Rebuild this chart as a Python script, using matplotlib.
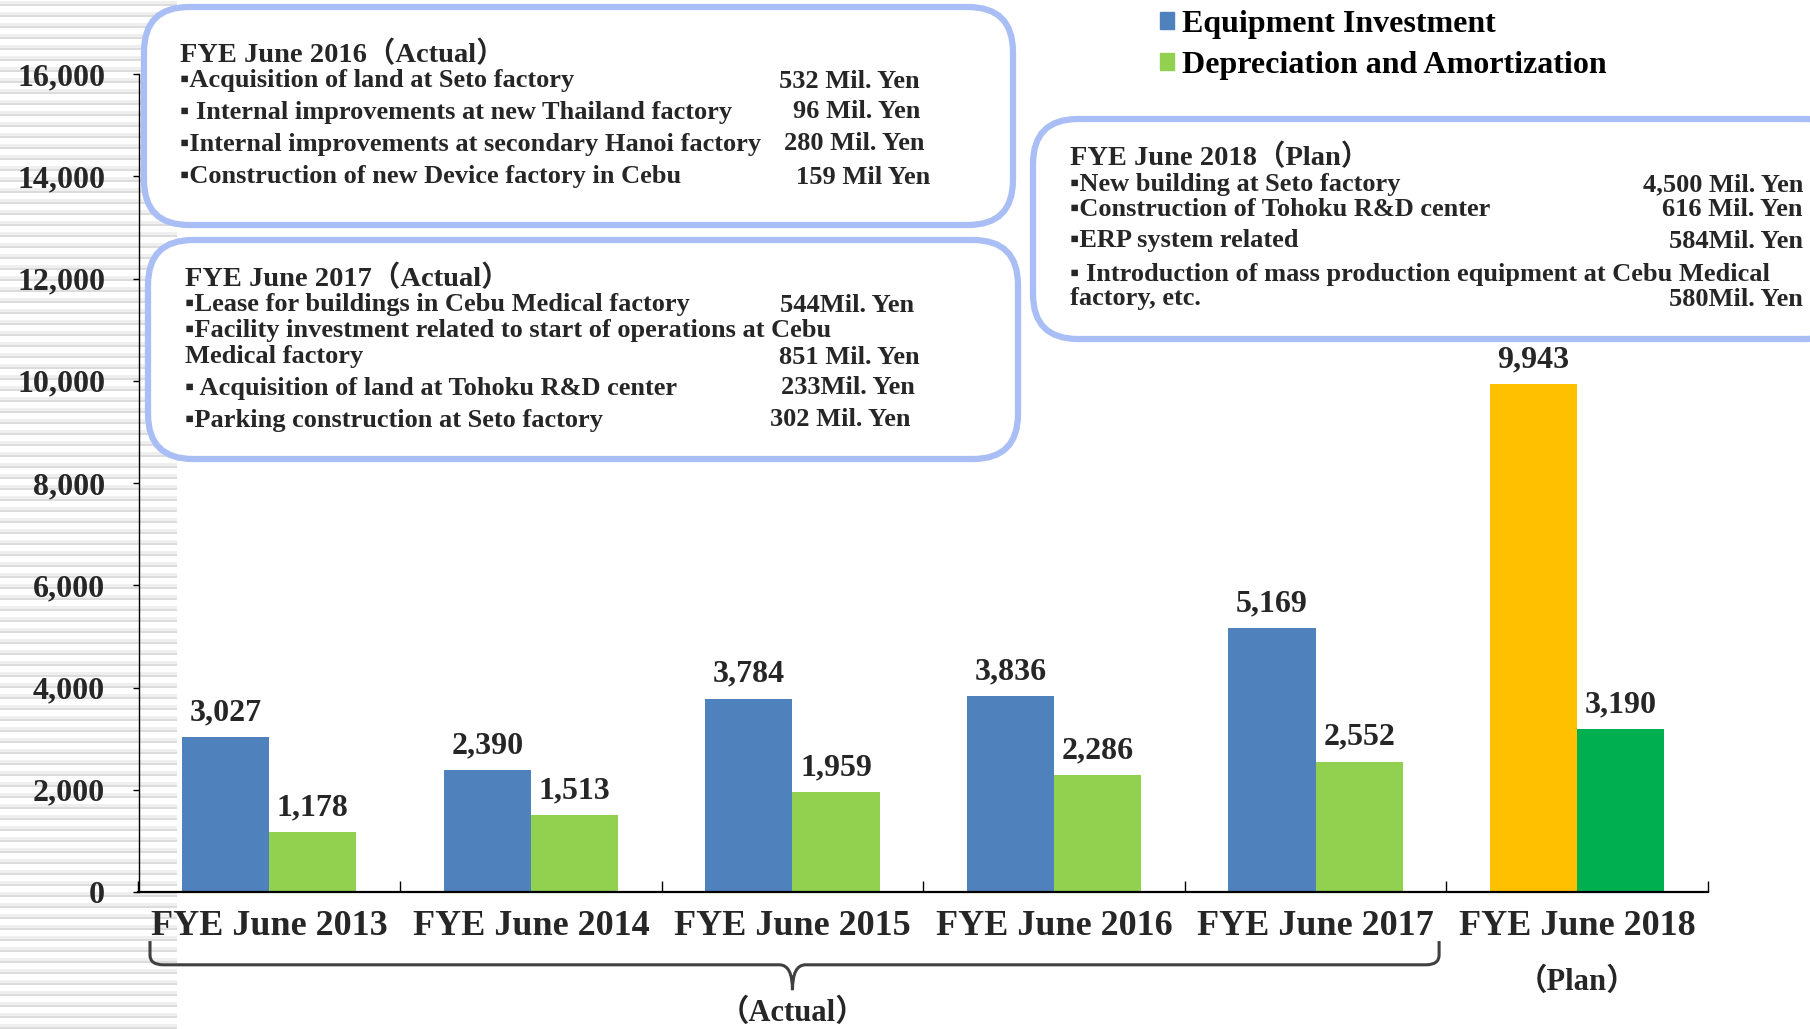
import numpy as np
import matplotlib
matplotlib.use("Agg")
import matplotlib.pyplot as plt
from matplotlib.patches import FancyBboxPatch, PathPatch, Rectangle
from matplotlib.path import Path
from matplotlib.transforms import IdentityTransform

# data (million yen)
years = ["FYE June 2013", "FYE June 2014", "FYE June 2015",
         "FYE June 2016", "FYE June 2017", "FYE June 2018"]
investment = [3027, 2390, 3784, 3836, 5169, 9943]
depreciation = [1178, 1513, 1959, 2286, 2552, 3190]
inv_colors = ["#4F81BD"] * 5 + ["#FFC000"]
dep_colors = ["#92D050"] * 5 + ["#00B050"]
yticks = np.arange(0, 16001, 2000)

box_2016_title = "FYE June 2016（Actual）"
box_2016_items = ["▪Acquisition of land at Seto factory",
                  "▪ Internal improvements at new Thailand factory",
                  "▪Internal improvements at secondary Hanoi factory",
                  "▪Construction of new Device factory in Cebu"]
box_2016_values = ["532 Mil. Yen", "96 Mil. Yen", "280 Mil. Yen", "159 Mil Yen"]

box_2017_title = "FYE June 2017（Actual）"
box_2017_items = ["▪Lease for buildings in Cebu Medical factory",
                  "▪Facility investment related to start of operations at Cebu",
                  "Medical factory",
                  "▪ Acquisition of land at Tohoku R&D center",
                  "▪Parking construction at Seto factory"]
box_2017_values = ["544Mil. Yen", "", "851 Mil. Yen", "233Mil. Yen", "302 Mil. Yen"]

box_2018_title = "FYE June 2018（Plan）"
box_2018_items = ["▪New building at Seto factory",
                  "▪Construction of Tohoku R&D center",
                  "▪ERP system related",
                  "▪ Introduction of mass production equipment at Cebu Medical",
                  "factory, etc."]
box_2018_values = ["4,500 Mil. Yen", "616 Mil. Yen", "584Mil. Yen", "", "580Mil. Yen"]

W, H = 1810, 1029
TXT = "#262626"

plt.rcParams['font.family'] = ['Liberation Serif', 'DejaVu Sans', 'Noto Sans CJK JP']
plt.rcParams['font.weight'] = 'bold'

fig = plt.figure(figsize=(W / 100, H / 100), dpi=100)
fig.patch.set_facecolor("white")
ax = fig.add_axes([138.5 / W, 1 - 892 / H, (1708 - 138.5) / W, (892 - 74) / H])
ax.patch.set_facecolor("none")

# striped band on the left edge
for y0 in np.arange(0, H, 11):
    fig.add_artist(Rectangle((0, y0), 177, 2.5, transform=IdentityTransform(),
                             facecolor="#dcdcdc", edgecolor="none", zorder=-2))
    fig.add_artist(Rectangle((0, y0 + 2.5), 177, 3, transform=IdentityTransform(),
                             facecolor="#efefef", edgecolor="none", zorder=-2))

x = np.arange(len(years))
w = 1 / 3
b1 = ax.bar(x - w / 2, investment, w, color=inv_colors, label="Equipment Investment", zorder=2)
b2 = ax.bar(x + w / 2, depreciation, w, color=dep_colors, label="Depreciation and Amortization", zorder=2)
ax.bar_label(b1, labels=[f"{v:,}" for v in investment], padding=7, fontsize=23, color=TXT)
ax.bar_label(b2, labels=[f"{v:,}" for v in depreciation], padding=7, fontsize=23, color=TXT)

ax.set_xlim(-0.5, len(years) - 0.5)
ax.set_ylim(0, 16000)
ax.set_yticks(yticks, [f"{v:,}" for v in yticks])
ax.tick_params(axis='y', direction='out', length=4, width=1, pad=20, labelsize=23, labelcolor=TXT)
ax.set_xticks(np.arange(-0.5, len(years)), [""] * (len(years) + 1))
ax.tick_params(axis='x', which='major', direction='in', length=8, width=1)
ax.set_xticks(x, years, minor=True)
ax.tick_params(axis='x', which='minor', length=0, pad=13, labelsize=26, labelcolor=TXT)
for s in ["top", "right"]:
    ax.spines[s].set_visible(False)
ax.spines["left"].set_linewidth(1)
ax.spines["bottom"].set_linewidth(1.6)

leg = ax.legend(loc="upper left", bbox_to_anchor=(1160, H - 10), bbox_transform=IdentityTransform(),
                frameon=False, fontsize=23, handlelength=0.45, handleheight=0.45,
                handletextpad=0.25, labelspacing=0.36, borderaxespad=0, borderpad=0)
for t in leg.get_texts():
    t.set_color("black")
leg.legend_handles[0].set_color("#4F81BD")
leg.legend_handles[1].set_color("#92D050")

# brace under the actual years
tr = ax.get_xaxis_transform()
xl, xr, xc, d = -0.456, 4.472, 2.0, 0.05
yt, ym, yc = -0.06, -0.089, -0.12
verts = [(xl, yt), (xl, ym + 0.012), (xl, ym), (xl + d, ym), (xc - d, ym), (xc, ym), (xc, yc),
         (xc, ym), (xc + d, ym), (xr - d, ym), (xr, ym), (xr, ym + 0.012), (xr, yt)]
codes = [Path.MOVETO, Path.LINETO, Path.CURVE3, Path.CURVE3, Path.LINETO, Path.CURVE3, Path.CURVE3,
         Path.CURVE3, Path.CURVE3, Path.LINETO, Path.CURVE3, Path.CURVE3, Path.LINETO]
ax.add_patch(PathPatch(Path(verts, codes), transform=tr, facecolor="none",
                       edgecolor="#404040", lw=2.2, clip_on=False))
ax.text(xc, -0.148, "（Actual）", transform=tr, ha="center", va="center", fontsize=22, color=TXT)
ax.text(5, -0.11, "（Plan）", transform=tr, ha="center", va="center", fontsize=22, color=TXT)


def note_box(x0, y0, x1, y1, title, items, values, tx, ty, rows, vx):
    fig.add_artist(FancyBboxPatch((x0, H - y1), x1 - x0, y1 - y0,
                                  boxstyle="round,pad=0,rounding_size=45",
                                  transform=IdentityTransform(), facecolor="white",
                                  edgecolor="#A9BEF5", lw=4.5, zorder=3))
    fig.text(tx, H - ty, title, transform=IdentityTransform(), ha="left", va="center",
             fontsize=20.5, color=TXT, zorder=4)
    for item, val, ry, rx in zip(items, values, rows, vx):
        fig.text(tx, H - ry, item, transform=IdentityTransform(), ha="left", va="center",
                 fontsize=19, color=TXT, zorder=4)
        if val:
            fig.text(rx, H - ry, val, transform=IdentityTransform(), ha="right", va="center",
                     fontsize=19, color=TXT, zorder=4)


note_box(144, 7, 1013, 225, box_2016_title, box_2016_items, box_2016_values,
         180, 54, [81, 112, 144, 177], [920, 920, 925, 930])
note_box(148, 240, 1018, 459, box_2017_title, box_2017_items, box_2017_values,
         185, 278, [305, 330, 357, 388, 420], [914, 0, 920, 915, 910])
note_box(1033, 119, 1850, 339, box_2018_title, box_2018_items, box_2018_values,
         1070, 157, [185, 210, 241, 274, 299], [1803, 1803, 1803, 0, 1803])

fig.savefig("out.png", dpi=100)
